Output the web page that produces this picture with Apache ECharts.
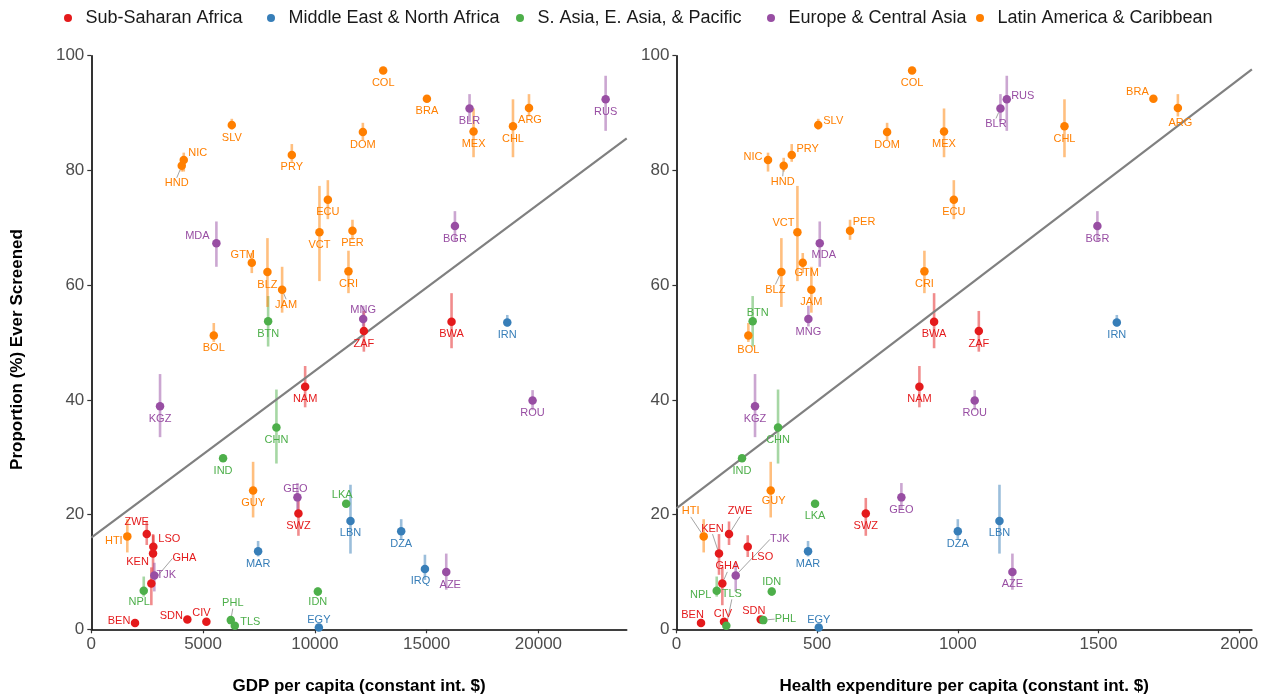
<!DOCTYPE html>
<html><head><meta charset="utf-8">
<script src="https://cdn.jsdelivr.net/npm/echarts@6/dist/echarts.min.js"></script>
<style>html,body{margin:0;padding:0;background:#fff}#c{width:1268px;height:697px}</style>
</head><body><div id="c"></div>
<script>
// ---------------- DATA ----------------
const regions = ['Sub-Saharan Africa', 'Middle East & North Africa', 'S. Asia, E. Asia, & Pacific', 'Europe & Central Asia', 'Latin America & Caribbean'];
const iso = ['SLV','NIC','HND','PRY','ECU','VCT','PER','GTM','BLZ','JAM','CRI','BOL','DOM','COL','BRA','MEX','CHL','ARG','GUY','HTI',
  'MDA','BLR','RUS','BGR','MNG','KGZ','GEO','TJK','ROU','AZE',
  'BTN','CHN','IND','LKA','NPL','PHL','TLS','IDN',
  'IRN','LBN','MAR','EGY','DZA','IRQ',
  'ZAF','BWA','NAM','SWZ','ZWE','LSO','KEN','GHA','BEN','SDN','CIV'];
const regionOf = [4,4,4,4,4,4,4,4,4,4,4,4,4,4,4,4,4,4,4,4,
  3,3,3,3,3,3,3,3,3,3,
  2,2,2,2,2,2,2,2,
  1,1,1,1,1,1,
  0,0,0,0,0,0,0,0,0,0,0];
const gdp = [6285,4136,4046,8970,10582,10206,11683,7180,7880,8536,11504,5479,12148,13057,15013,17099,18863,19579,7238,1611,
  5596,16920,23008,16266,12162,3075,9221,2820,19740,15878,
  7910,8281,5895,11401,2346,6240,6419,10134,
  18608,11594,7462,10179,13863,14924,
  12193,16115,9566,9266,2480,2775,2762,2686,1956,4297,5148];
const healthExp = [504,325.6,381.3,409.8,985.8,430,617,449,373,479.6,881.3,255.7,748.7,837.5,1695,951,1379,1782,335.2,97,
  509.4,1151.5,1174,1496,469,279.4,799.5,210.8,1060,1194,
  271,361.2,233.2,492.7,143.3,309,177.4,338.8,
  1565,1148,467.8,505.9,1000,null,
  1074.6,915.7,863.5,673,187,253.5,151.4,163.2,87.5,299.7,169.2];
const screened = [87.9,81.8,80.8,82.7,74.9,69.2,69.5,63.9,62.3,59.2,62.4,51.2,86.7,97.4,92.5,86.8,87.7,90.9,24.2,16.2,
  67.3,90.8,92.4,70.3,54.1,38.9,23.0,9.4,39.9,10.0,
  53.7,35.2,29.8,21.9,6.7,1.6,0.6,6.6,
  53.5,18.9,13.6,0.3,17.1,10.5,
  52.0,53.6,42.3,20.2,16.6,14.4,13.2,8.0,1.1,1.7,1.3];
const ciLow = [87.1,79.8,79.8,81.5,71.5,60.7,67.9,62.1,56.2,55.2,58.6,50.1,85.3,97.0,92.1,82.3,82.3,89.4,19.5,13.4,
  63.2,88.5,86.9,67.6,52.8,33.5,20.8,6.6,38.2,6.9,
  49.3,28.9,29.5,21.3,5.7,1.2,0.3,5.8,
  52.8,13.2,12.7,0.1,15.6,8.6,
  48.4,49.0,38.7,16.3,14.7,12.6,9.5,4.2,0.8,1.4,1.0];
const ciHigh = [89.0,83.1,82.2,84.6,78.3,77.3,71.4,65.6,68.2,63.2,66.0,53.4,88.3,97.8,92.9,90.8,92.4,93.3,29.2,19.2,
  71.1,93.3,96.5,72.9,56.4,44.5,25.5,11.6,41.7,13.2,
  58.1,41.8,30.1,22.5,9.2,2.0,0.9,7.3,
  54.8,25.2,15.4,0.5,19.2,13.0,
  55.5,58.6,45.9,22.9,18.8,16.4,16.6,10.8,1.5,2.0,1.6];
const gdpTicks = [0,5000,10000,15000,20000];
const hexpTicks = [0,500,1000,1500,2000];
const yTicks = [0,20,40,60,80,100];
const gdpFitX = [0, 23950];
const gdpFitY = [16.0, 85.6];
const hexpFitX = [0, 2045];
const hexpFitY = [21.1, 97.6];

// ---------------- STYLE / LAYOUT ----------------
const colors = ['#E41A1C','#377EB8','#4DAF4A','#984EA3','#FF7F00'];
const FONT = '"Liberation Sans", Arial, Helvetica, sans-serif';
const DEF = [0, 12.5];
const offsGdp = {NIC:[14,-7],HND:[-5,17.5],MDA:[-19,-7],GTM:[-9,-8],JAM:[4,15],MNG:[0,-9],GEO:[-2,-8.5],LKA:[-4,-8.5],
  HTI:[-13.5,4.5],ZWE:[-10,-12],LSO:[16,-7.5],KEN:[-15.5,8.5],TJK:[12,0],GHA:[33,-25],NPL:[-4.5,11],BEN:[-16,-2],
  SDN:[-16,-4],CIV:[-5,-8.5],PHL:[2,-17],TLS:[15.5,-4],IDN:[0,10.5],EGY:[0,-7.5],IRQ:[-4.5,11.5],AZE:[4,13],ARG:[1,12],BLZ:[0,13]};
const linesGdp = new Set(['HND','JAM','GHA','PHL']);
const offsHexp = {SLV:[15,-4],NIC:[-15,-3.5],PRY:[16,-5.5],HND:[-1,16],VCT:[-14,-9],PER:[14,-9],MDA:[4,12],GTM:[4,10],
  BLZ:[-6,18],BTN:[5,-8],BOL:[0,14],BLR:[-4.5,15.5],RUS:[16,-3.5],BRA:[-16,-7],ARG:[2.5,15],GUY:[3,10.5],HTI:[-13,-25],
  ZWE:[11,-23],KEN:[-6.5,-25],LSO:[14.5,10.5],TJK:[44,-36],GHA:[5,-17],NPL:[-16,4.5],TLS:[5.5,-32],IDN:[0,-9],
  BEN:[-8.5,-8.5],CIV:[-1,-8],SDN:[-7,-9],PHL:[22,-1],EGY:[0,-8]};
const linesHexp = new Set(['HND','BLZ','BLR','HTI','ZWE','KEN','TJK','GHA','TLS','PHL']);

const legendCenters = [68, 271, 520, 771, 980];

const gridTop = 55.7, gridH = 573.6;
const grids = [
  {left: 91.3, top: gridTop, width: 535.4, height: gridH, containLabel: false, outerBoundsMode: 'none'},
  {left: 676.4, top: gridTop, width: 575.5, height: gridH, containLabel: false, outerBoundsMode: 'none'}
];

function xAxisFor(idx, ticks, max, title) {
  return {
    type: 'value', gridIndex: idx, min: ticks[0], max: max, interval: ticks[1]-ticks[0],
    name: title, nameLocation: 'middle', nameGap: 49,
    nameTextStyle: {fontFamily: FONT, fontSize: 17, fontWeight: 'bold', color: '#000'},
    axisLine: {show: true, onZero: false, lineStyle: {color: '#000', width: 1.6}},
    axisTick: {show: true, length: 4, lineStyle: {color: '#333', width: 1.2}},
    axisLabel: {fontFamily: FONT, fontSize: 17, color: '#4D4D4D', margin: 7, showMaxLabel: false,
      formatter: v => String(v)},
    splitLine: {show: false}
  };
}
function yAxisFor(idx, withName) {
  return {
    type: 'value', gridIndex: idx, min: yTicks[0], max: yTicks[yTicks.length-1], interval: yTicks[1]-yTicks[0],
    name: withName ? 'Proportion (%) Ever Screened' : '', nameLocation: 'middle', nameGap: 65, nameRotate: 90,
    nameTextStyle: {fontFamily: FONT, fontSize: 17, fontWeight: 'bold', color: '#000', padding: [0, 14, 0, 0]},
    axisLine: {show: true, onZero: false, lineStyle: {color: '#000', width: 1.6}},
    axisTick: {show: true, length: 4, lineStyle: {color: '#333', width: 1.2}},
    axisLabel: {fontFamily: FONT, fontSize: 17, color: '#4D4D4D', margin: 7, formatter: v => String(v)},
    splitLine: {show: false}
  };
}

const series = [];
const panels = [
  {xs: gdp, offs: offsGdp, lines: linesGdp, fitX: gdpFitX, fitY: gdpFitY},
  {xs: healthExp, offs: offsHexp, lines: linesHexp, fitX: hexpFitX, fitY: hexpFitY}
];
panels.forEach((pn, pi) => {
  regions.forEach((rname, r) => {
    const d = [];
    iso.forEach((c, i) => {
      if (regionOf[i] === r && pn.xs[i] != null) d.push([pn.xs[i], ciLow[i], ciHigh[i]]);
    });
    const col = colors[r];
    series.push({
      type: 'custom', name: rname, xAxisIndex: pi, yAxisIndex: pi, z: 1,
      encode: {x: 0, y: [1, 2]}, data: d, silent: true,
      itemStyle: {color: col},
      renderItem: function (params, api) {
        const x = api.value(0), lo = api.value(1), hi = api.value(2);
        const p1 = api.coord([x, lo]), p2 = api.coord([x, hi]);
        return {type: 'line', shape: {x1: p1[0], y1: p1[1], x2: p2[0], y2: p2[1]},
          style: {stroke: col, lineWidth: 2.6, opacity: 0.5}};
      }
    });
  });
  series.push({
    type: 'line', xAxisIndex: pi, yAxisIndex: pi, z: 2, silent: true, symbol: 'none',
    data: pn.fitX.map((x, k) => [x, pn.fitY[k]]),
    lineStyle: {color: '#808080', width: 2.2}
  });
});
panels.forEach((pn, pi) => {
  regions.forEach((rname, r) => {
    const d = [], offs = [];
    iso.forEach((c, i) => {
      if (regionOf[i] === r && pn.xs[i] != null) {
        d.push({name: c, value: [pn.xs[i], screened[i]], labelLine: {show: pn.lines.has(c)}});
        offs.push(pn.offs[c] || DEF);
      }
    });
    const col = colors[r];
    series.push({
      type: 'scatter', name: rname, xAxisIndex: pi, yAxisIndex: pi, z: 3,
      symbol: 'circle', symbolSize: 8.5, data: d,
      itemStyle: {color: col, opacity: 1},
      label: {show: true, position: 'inside', formatter: '{b}', fontFamily: FONT, fontSize: 11, color: col},
      labelLine: {show: false, lineStyle: {color: '#8c8c8c', width: 0.8}},
      labelLayout: function (p) { const o = offs[p.dataIndex]; return {dx: o[0], dy: o[1], hideOverlap: false}; }
    });
  });
});

const option = {
  animation: false,
  backgroundColor: '#fff',
  grid: grids,
  xAxis: [xAxisFor(0, gdpTicks, 23950, 'GDP per capita (constant int. $)'),
          xAxisFor(1, hexpTicks, 2045, 'Health expenditure per capita (constant int. $)')],
  yAxis: [yAxisFor(0, true), yAxisFor(1, false)],
  legend: regions.map((name, i) => ({
    data: [{name: name, icon: 'circle', itemStyle: {color: colors[i]}}],
    left: legendCenters[i] - 4, top: 9, padding: 0,
    itemWidth: 25, itemHeight: 8, selectedMode: false,
    textStyle: {fontFamily: FONT, fontSize: 18, color: '#1A1A1A'}
  })),
  series: series
};
const chart = echarts.init(document.getElementById('c'), null, {renderer: 'canvas'});
chart.setOption(option);
</script></body></html>
